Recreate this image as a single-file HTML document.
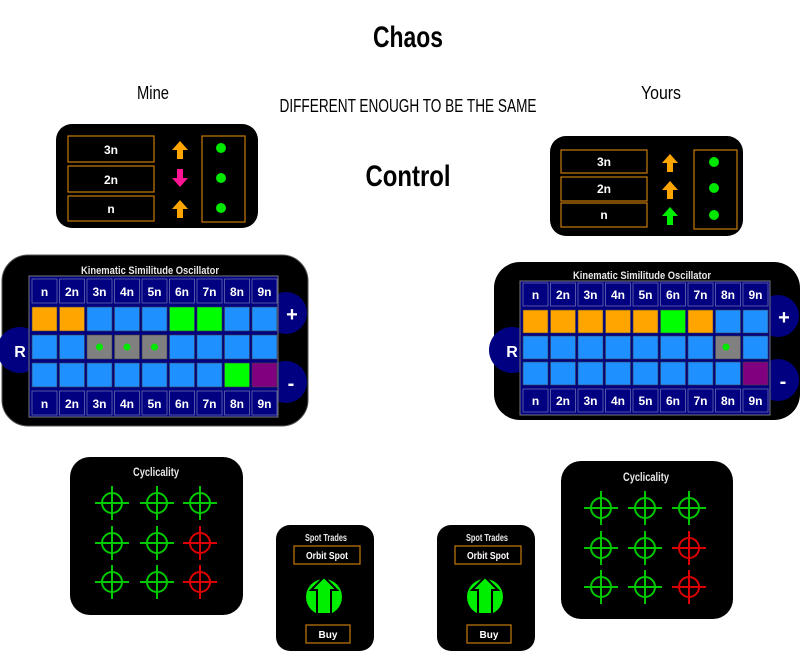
<!DOCTYPE html>
<html><head><meta charset="utf-8"><style>
html,body{margin:0;padding:0;background:#fff;}
svg{display:block;}
text{font-family:"Liberation Sans",sans-serif;}
</style></head><body>
<svg width="800" height="653" viewBox="0 0 800 653" xmlns="http://www.w3.org/2000/svg">
<defs>
<g id="up"><path d="M0,-9 L8,0 L3,0 L3,9 L-3,9 L-3,0 L-8,0 Z"/></g>
<g id="ch"><circle r="10" fill="none" stroke-width="2"/><path d="M-17,0 H17 M0,-17 V17" stroke-width="2"/></g>
</defs>

<!-- titles -->
<text x="408" y="47" font-size="30" font-weight="bold" text-anchor="middle" textLength="70" lengthAdjust="spacingAndGlyphs">Chaos</text>
<text x="408" y="112" font-size="18" text-anchor="middle" textLength="257" lengthAdjust="spacingAndGlyphs">DIFFERENT ENOUGH TO BE THE SAME</text>
<text x="408" y="186" font-size="30" font-weight="bold" text-anchor="middle" textLength="85" lengthAdjust="spacingAndGlyphs">Control</text>
<text x="153" y="99" font-size="18" text-anchor="middle" textLength="32" lengthAdjust="spacingAndGlyphs">Mine</text>
<text x="661" y="99" font-size="18" text-anchor="middle" textLength="40" lengthAdjust="spacingAndGlyphs">Yours</text>

<!-- left control -->
<rect x="56" y="124" width="202" height="104" rx="16" fill="#000"/>
<g fill="none" stroke="#b8720a" stroke-width="1.3">
<rect x="68" y="136" width="86" height="26"/><rect x="68" y="166" width="86" height="26"/><rect x="68" y="196" width="86" height="25"/>
<rect x="202" y="136" width="43" height="86"/></g>
<g fill="#fff" font-size="12" font-weight="bold" text-anchor="middle">
<text x="111" y="154">3n</text><text x="111" y="184">2n</text><text x="111" y="213">n</text></g>
<use href="#up" x="180" y="150" fill="#ffa500"/>
<use href="#up" transform="translate(180,178) rotate(180)" fill="#ff1493"/>
<use href="#up" x="180" y="209" fill="#ffa500"/>
<g fill="#00e800"><circle cx="221" cy="148" r="5"/><circle cx="221" cy="178" r="5"/><circle cx="221" cy="208" r="5"/></g>

<!-- right control -->
<rect x="550" y="136" width="193" height="100" rx="16" fill="#000"/>
<g fill="none" stroke="#b8720a" stroke-width="1.3">
<rect x="561" y="150" width="86" height="23"/><rect x="561" y="177" width="86" height="24"/><rect x="561" y="203" width="86" height="24"/>
<rect x="694" y="150" width="43" height="79"/></g>
<g fill="#fff" font-size="12" font-weight="bold" text-anchor="middle">
<text x="604" y="166">3n</text><text x="604" y="193">2n</text><text x="604" y="219">n</text></g>
<use href="#up" x="670" y="163" fill="#ffa500"/>
<use href="#up" x="670" y="190" fill="#ffa500"/>
<use href="#up" x="670" y="216" fill="#00ee00"/>
<g fill="#00e800"><circle cx="714" cy="162" r="5"/><circle cx="714" cy="188" r="5"/><circle cx="714" cy="215" r="5"/></g>

<!-- left oscillator -->
<rect x="2" y="255" width="306" height="171" rx="26" fill="#000" stroke="#555" stroke-width="1"/>
<circle cx="20" cy="350" r="23" fill="#000080"/>
<circle cx="286" cy="313" r="21" fill="#000080"/>
<circle cx="286" cy="382" r="21" fill="#000080"/>
<text x="20" y="357" fill="#fff" font-size="16" font-weight="bold" text-anchor="middle">R</text>
<text x="292" y="321" fill="#fff" font-size="20" font-weight="bold" text-anchor="middle">+</text>
<text x="291" y="390" fill="#fff" font-size="20" font-weight="bold" text-anchor="middle">-</text>
<text x="150" y="274" fill="#e8e8e8" font-size="11" font-weight="bold" text-anchor="middle" textLength="138" lengthAdjust="spacingAndGlyphs">Kinematic Similitude Oscillator</text>
<rect x="29" y="276" width="249" height="141" fill="#000080" stroke="#777" stroke-width="1"/>
<g stroke="#6a6ab0" stroke-width="0.8" fill="#000080">
<rect x="32" y="279" width="25" height="24"/><rect x="59.5" y="279" width="25" height="24"/><rect x="87" y="279" width="25" height="24"/><rect x="114.5" y="279" width="25" height="24"/><rect x="142" y="279" width="25" height="24"/><rect x="169.5" y="279" width="25" height="24"/><rect x="197" y="279" width="25" height="24"/><rect x="224.5" y="279" width="25" height="24"/><rect x="252" y="279" width="25" height="24"/>
<rect x="32" y="391" width="25" height="24"/><rect x="59.5" y="391" width="25" height="24"/><rect x="87" y="391" width="25" height="24"/><rect x="114.5" y="391" width="25" height="24"/><rect x="142" y="391" width="25" height="24"/><rect x="169.5" y="391" width="25" height="24"/><rect x="197" y="391" width="25" height="24"/><rect x="224.5" y="391" width="25" height="24"/><rect x="252" y="391" width="25" height="24"/>
</g>
<g stroke="#444" stroke-width="0.6">
<rect x="32" y="307" width="25" height="24" fill="#ffa500"/><rect x="59.5" y="307" width="25" height="24" fill="#ffa500"/><rect x="87" y="307" width="25" height="24" fill="#1e90ff"/><rect x="114.5" y="307" width="25" height="24" fill="#1e90ff"/><rect x="142" y="307" width="25" height="24" fill="#1e90ff"/><rect x="169.5" y="307" width="25" height="24" fill="#00ff00"/><rect x="197" y="307" width="25" height="24" fill="#00ff00"/><rect x="224.5" y="307" width="25" height="24" fill="#1e90ff"/><rect x="252" y="307" width="25" height="24" fill="#1e90ff"/>
<rect x="32" y="335" width="25" height="24" fill="#1e90ff"/><rect x="59.5" y="335" width="25" height="24" fill="#1e90ff"/><rect x="87" y="335" width="25" height="24" fill="#808080"/><rect x="114.5" y="335" width="25" height="24" fill="#808080"/><rect x="142" y="335" width="25" height="24" fill="#808080"/><rect x="169.5" y="335" width="25" height="24" fill="#1e90ff"/><rect x="197" y="335" width="25" height="24" fill="#1e90ff"/><rect x="224.5" y="335" width="25" height="24" fill="#1e90ff"/><rect x="252" y="335" width="25" height="24" fill="#1e90ff"/>
<rect x="32" y="363" width="25" height="24" fill="#1e90ff"/><rect x="59.5" y="363" width="25" height="24" fill="#1e90ff"/><rect x="87" y="363" width="25" height="24" fill="#1e90ff"/><rect x="114.5" y="363" width="25" height="24" fill="#1e90ff"/><rect x="142" y="363" width="25" height="24" fill="#1e90ff"/><rect x="169.5" y="363" width="25" height="24" fill="#1e90ff"/><rect x="197" y="363" width="25" height="24" fill="#1e90ff"/><rect x="224.5" y="363" width="25" height="24" fill="#00ff00"/><rect x="252" y="363" width="25" height="24" fill="#800080"/>
</g>
<g fill="#00e800"><circle cx="99.5" cy="347" r="3.5"/><circle cx="127" cy="347" r="3.5"/><circle cx="154.5" cy="347" r="3.5"/></g>
<g fill="#fff" font-size="12" font-weight="bold" text-anchor="middle">
<text x="44.5" y="296">n</text><text x="72" y="296">2n</text><text x="99.5" y="296">3n</text><text x="127" y="296">4n</text><text x="154.5" y="296">5n</text><text x="182" y="296">6n</text><text x="209.5" y="296">7n</text><text x="237" y="296">8n</text><text x="264.5" y="296">9n</text>
<text x="44.5" y="408">n</text><text x="72" y="408">2n</text><text x="99.5" y="408">3n</text><text x="127" y="408">4n</text><text x="154.5" y="408">5n</text><text x="182" y="408">6n</text><text x="209.5" y="408">7n</text><text x="237" y="408">8n</text><text x="264.5" y="408">9n</text>
</g>

<!-- right oscillator -->
<rect x="494" y="262" width="306" height="158" rx="26" fill="#000"/>
<circle cx="512" cy="350" r="23" fill="#000080"/>
<circle cx="778" cy="316" r="21" fill="#000080"/>
<circle cx="778" cy="380" r="21" fill="#000080"/>
<text x="512" y="357" fill="#fff" font-size="16" font-weight="bold" text-anchor="middle">R</text>
<text x="784" y="324" fill="#fff" font-size="20" font-weight="bold" text-anchor="middle">+</text>
<text x="783" y="388" fill="#fff" font-size="20" font-weight="bold" text-anchor="middle">-</text>
<text x="642" y="279" fill="#e8e8e8" font-size="11" font-weight="bold" text-anchor="middle" textLength="138" lengthAdjust="spacingAndGlyphs">Kinematic Similitude Oscillator</text>
<rect x="520" y="281" width="250" height="134" fill="#000080" stroke="#777" stroke-width="1"/>
<g stroke="#6a6ab0" stroke-width="0.8" fill="#000080">
<rect x="523" y="283" width="25" height="23"/><rect x="550.5" y="283" width="25" height="23"/><rect x="578" y="283" width="25" height="23"/><rect x="605.5" y="283" width="25" height="23"/><rect x="633" y="283" width="25" height="23"/><rect x="660.5" y="283" width="25" height="23"/><rect x="688" y="283" width="25" height="23"/><rect x="715.5" y="283" width="25" height="23"/><rect x="743" y="283" width="25" height="23"/>
<rect x="523" y="389" width="25" height="23"/><rect x="550.5" y="389" width="25" height="23"/><rect x="578" y="389" width="25" height="23"/><rect x="605.5" y="389" width="25" height="23"/><rect x="633" y="389" width="25" height="23"/><rect x="660.5" y="389" width="25" height="23"/><rect x="688" y="389" width="25" height="23"/><rect x="715.5" y="389" width="25" height="23"/><rect x="743" y="389" width="25" height="23"/>
</g>
<g stroke="#444" stroke-width="0.6">
<rect x="523" y="310" width="25" height="23" fill="#ffa500"/><rect x="550.5" y="310" width="25" height="23" fill="#ffa500"/><rect x="578" y="310" width="25" height="23" fill="#ffa500"/><rect x="605.5" y="310" width="25" height="23" fill="#ffa500"/><rect x="633" y="310" width="25" height="23" fill="#ffa500"/><rect x="660.5" y="310" width="25" height="23" fill="#00ff00"/><rect x="688" y="310" width="25" height="23" fill="#ffa500"/><rect x="715.5" y="310" width="25" height="23" fill="#1e90ff"/><rect x="743" y="310" width="25" height="23" fill="#1e90ff"/>
<rect x="523" y="336" width="25" height="23" fill="#1e90ff"/><rect x="550.5" y="336" width="25" height="23" fill="#1e90ff"/><rect x="578" y="336" width="25" height="23" fill="#1e90ff"/><rect x="605.5" y="336" width="25" height="23" fill="#1e90ff"/><rect x="633" y="336" width="25" height="23" fill="#1e90ff"/><rect x="660.5" y="336" width="25" height="23" fill="#1e90ff"/><rect x="688" y="336" width="25" height="23" fill="#1e90ff"/><rect x="715.5" y="336" width="25" height="23" fill="#808080"/><rect x="743" y="336" width="25" height="23" fill="#1e90ff"/>
<rect x="523" y="362" width="25" height="23" fill="#1e90ff"/><rect x="550.5" y="362" width="25" height="23" fill="#1e90ff"/><rect x="578" y="362" width="25" height="23" fill="#1e90ff"/><rect x="605.5" y="362" width="25" height="23" fill="#1e90ff"/><rect x="633" y="362" width="25" height="23" fill="#1e90ff"/><rect x="660.5" y="362" width="25" height="23" fill="#1e90ff"/><rect x="688" y="362" width="25" height="23" fill="#1e90ff"/><rect x="715.5" y="362" width="25" height="23" fill="#1e90ff"/><rect x="743" y="362" width="25" height="23" fill="#800080"/>
</g>
<circle cx="726" cy="347" r="3.5" fill="#00e800"/>
<g fill="#fff" font-size="12" font-weight="bold" text-anchor="middle">
<text x="535.5" y="299">n</text><text x="563" y="299">2n</text><text x="590.5" y="299">3n</text><text x="618" y="299">4n</text><text x="645.5" y="299">5n</text><text x="673" y="299">6n</text><text x="700.5" y="299">7n</text><text x="728" y="299">8n</text><text x="755.5" y="299">9n</text>
<text x="535.5" y="405">n</text><text x="563" y="405">2n</text><text x="590.5" y="405">3n</text><text x="618" y="405">4n</text><text x="645.5" y="405">5n</text><text x="673" y="405">6n</text><text x="700.5" y="405">7n</text><text x="728" y="405">8n</text><text x="755.5" y="405">9n</text>
</g>

<!-- left cyclicality -->
<rect x="70" y="457" width="173" height="158" rx="20" fill="#000"/>
<text x="156" y="476" fill="#e8e8e8" font-size="12" font-weight="bold" text-anchor="middle" textLength="46" lengthAdjust="spacingAndGlyphs">Cyclicality</text>
<g stroke="#00c800">
<use href="#ch" x="112" y="503"/><use href="#ch" x="157" y="503"/><use href="#ch" x="200" y="503"/>
<use href="#ch" x="112" y="543"/><use href="#ch" x="157" y="543"/>
<use href="#ch" x="112" y="582"/><use href="#ch" x="157" y="582"/></g>
<g stroke="#dd0000"><use href="#ch" x="200" y="543"/><use href="#ch" x="200" y="582"/></g>

<!-- right cyclicality -->
<rect x="561" y="461" width="172" height="158" rx="20" fill="#000"/>
<text x="646" y="481" fill="#e8e8e8" font-size="12" font-weight="bold" text-anchor="middle" textLength="46" lengthAdjust="spacingAndGlyphs">Cyclicality</text>
<g stroke="#00c800">
<use href="#ch" x="601" y="508"/><use href="#ch" x="645" y="508"/><use href="#ch" x="689" y="508"/>
<use href="#ch" x="601" y="548"/><use href="#ch" x="645" y="548"/>
<use href="#ch" x="601" y="587"/><use href="#ch" x="645" y="587"/></g>
<g stroke="#dd0000"><use href="#ch" x="689" y="548"/><use href="#ch" x="689" y="587"/></g>

<!-- spot trades left -->
<rect x="276" y="525" width="98" height="126" rx="14" fill="#000"/>
<text x="326" y="541" fill="#e8e8e8" font-size="10" font-weight="bold" text-anchor="middle" textLength="42" lengthAdjust="spacingAndGlyphs">Spot Trades</text>
<rect x="294" y="546" width="66" height="18" fill="none" stroke="#b8720a" stroke-width="1.3"/>
<text x="327" y="559" fill="#fff" font-size="10" font-weight="bold" text-anchor="middle" textLength="42" lengthAdjust="spacingAndGlyphs">Orbit Spot</text>
<circle cx="324" cy="597" r="18" fill="#00ee00"/>
<path d="M324,577 L337,590 L331,590 L331,614 L317,614 L317,590 L311,590 Z" fill="#00ee00" stroke="#000" stroke-width="2"/>
<rect x="306" y="625" width="44" height="18" fill="none" stroke="#b8720a" stroke-width="1.3"/>
<text x="328" y="638" fill="#fff" font-size="10" font-weight="bold" text-anchor="middle">Buy</text>

<!-- spot trades right -->
<rect x="437" y="525" width="98" height="126" rx="14" fill="#000"/>
<text x="487" y="541" fill="#e8e8e8" font-size="10" font-weight="bold" text-anchor="middle" textLength="42" lengthAdjust="spacingAndGlyphs">Spot Trades</text>
<rect x="455" y="546" width="66" height="18" fill="none" stroke="#b8720a" stroke-width="1.3"/>
<text x="488" y="559" fill="#fff" font-size="10" font-weight="bold" text-anchor="middle" textLength="42" lengthAdjust="spacingAndGlyphs">Orbit Spot</text>
<circle cx="485" cy="597" r="18" fill="#00ee00"/>
<path d="M485,577 L498,590 L492,590 L492,614 L478,614 L478,590 L472,590 Z" fill="#00ee00" stroke="#000" stroke-width="2"/>
<rect x="467" y="625" width="44" height="18" fill="none" stroke="#b8720a" stroke-width="1.3"/>
<text x="489" y="638" fill="#fff" font-size="10" font-weight="bold" text-anchor="middle">Buy</text>
</svg>
</body></html>
